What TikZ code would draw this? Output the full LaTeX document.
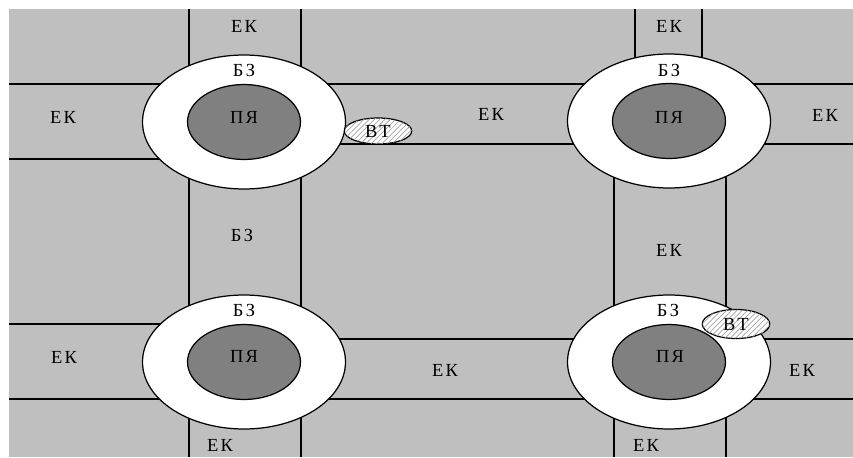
\documentclass[tikz,border=0pt]{standalone}
\usepackage{fontspec}
\setmainfont{Liberation Serif}[LetterSpace=12]
\usetikzlibrary{shapes.geometric, patterns}

\tikzset{
    zone/.style={ellipse, draw, fill=white, inner sep=0pt,
        minimum width=4.06cm, minimum height=2.68cm},
    core/.style={ellipse, draw, fill=black!50, inner sep=0pt,
        minimum width=2.26cm, minimum height=1.5cm},
    vt/.style={ellipse, draw, fill=white, inner sep=0pt,
        postaction={pattern=north east lines, pattern color=black!35},
        minimum width=1.35cm, minimum height=0.52cm},
    lbl/.style={inner sep=0pt}
}

\begin{document}
\begin{tikzpicture}[x=0.02cm, y=-0.02cm, line width=0.7pt,
    font=\fontsize{10.5}{12}\selectfont]
    \useasboundingbox (0,0) rectangle (853,457);
    \fill[black!25] (9,9) rectangle (853,457);

    \draw (189,9) -- (189,457);
    \draw (301,9) -- (301,457);
    \draw (635,9) -- (635,121);
    \draw (702,9) -- (702,121);
    \draw (614,121) -- (614,457);
    \draw (726,121) -- (726,457);
    \draw (9,84) -- (853,84);
    \draw (9,159) -- (244,159);
    \draw (244,144) -- (853,144);
    \draw (9,324) -- (244,324);
    \draw (244,339) -- (853,339);
    \draw (9,399) -- (853,399);

    \node[zone] (tl) at (244,122) {};
    \node[zone] (tr) at (669,121) {};
    \node[zone] (bl) at (244,362) {};
    \node[zone] (br) at (669,362) {};
    \node[core] (tlc) at (tl) {};
    \node[core] (trc) at (tr) {};
    \node[core] (blc) at (bl) {};
    \node[core] (brc) at (br) {};

    \node[vt] (vt1) at (378,131) {ВТ};
    \node[vt, minimum height=0.58cm] (vt2) at (736,324) {ВТ};

    \node[lbl] (pya1) at (244,117) {ПЯ};
    \node[lbl] (pya2) at (669,117) {ПЯ};
    \node[lbl] (pya3) at (244,356) {ПЯ};
    \node[lbl] (pya4) at (670,356) {ПЯ};

    \node[lbl] (bz1) at (244,70) {БЗ};
    \node[lbl] (bz2) at (669,70) {БЗ};
    \node[lbl] (bz3) at (242,235) {БЗ};
    \node[lbl] (bz4) at (244,310) {БЗ};
    \node[lbl] (bz5) at (668,310) {БЗ};

    \node[lbl] (ek1) at (244,26) {ЕК};
    \node[lbl] (ek2) at (63,117) {ЕК};
    \node[lbl] (ek3) at (491,114) {ЕК};
    \node[lbl] (ek4) at (669,26) {ЕК};
    \node[lbl] (ek5) at (825,115) {ЕК};
    \node[lbl] (ek6) at (669,250) {ЕК};
    \node[lbl] (ek7) at (64,357) {ЕК};
    \node[lbl] (ek8) at (220,445) {ЕК};
    \node[lbl] (ek9) at (445,370) {ЕК};
    \node[lbl] (ek10) at (802,370) {ЕК};
    \node[lbl] (ek11) at (646,445) {ЕК};
\end{tikzpicture}
\end{document}
